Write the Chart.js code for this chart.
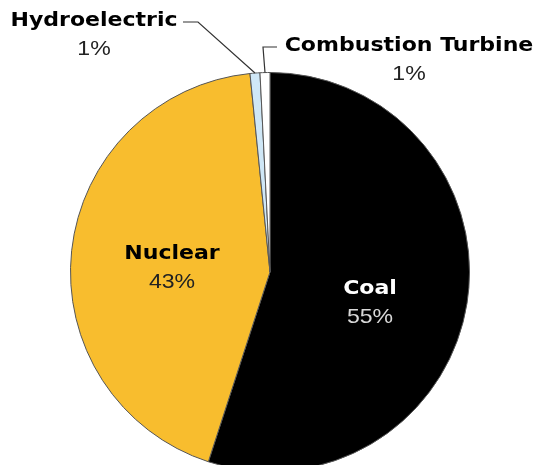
<!DOCTYPE html>
<html>
<head>
<meta charset="utf-8">
<script src="https://cdn.jsdelivr.net/npm/chart.js@4/dist/chart.umd.min.js"></script>
<style>
  html, body { margin: 0; padding: 0; background: #fff; }
  #wrap { width: 537px; height: 465px; overflow: hidden; position: relative; }
</style>
</head>
<body>
<div id="wrap"><canvas id="pie" width="537" height="480"></canvas></div>
<script>
// generation share by source, clockwise from 12 o'clock
var sources = ['Coal', 'Nuclear', 'Hydroelectric', 'Combustion Turbine'];
var shares = [55, 43.4, 0.8, 0.8];
var shareLabels = ['55%', '43%', '1%', '1%'];
var sliceColors = ['#000000', '#F8BD2E', '#CFE7F6', '#FFFFFF'];

// where each label sits (name line centre) and its colours
var labelSpots = [
  { x: 370, y: 289, name: '#FFFFFF', pct: '#D8D8D8' },
  { x: 172, y: 254, name: '#000000', pct: '#222222' },
  { x: 94, y: 21, name: '#000000', pct: '#222222' },
  { x: 409, y: 46, name: '#000000', pct: '#222222' }
];

function wideText(ctx, txt, x, y, sx) {
  ctx.save();
  ctx.translate(x, y);
  ctx.scale(sx, 1);
  ctx.fillText(txt, 0, 0);
  ctx.restore();
}

var labelPlugin = {
  id: 'sliceLabels',
  afterDraw: function(chart) {
    var ctx = chart.ctx;
    var arcs = chart.getDatasetMeta(0).data;
    ctx.save();
    ctx.textAlign = 'center';
    ctx.textBaseline = 'middle';
    sources.forEach(function(name, i) {
      var s = labelSpots[i];
      ctx.fillStyle = s.name;
      ctx.font = 'bold 19px "DejaVu Sans"';
      wideText(ctx, name, s.x, s.y, 1.16);
      ctx.fillStyle = s.pct;
      ctx.font = '21px "Liberation Sans"';
      wideText(ctx, shareLabels[i], s.x, s.y + 28, 1.1);
    });

    // leader lines for the two thin slices
    ctx.strokeStyle = '#333';
    ctx.lineWidth = 1.2;
    var hydro = arcs[2], ct = arcs[3];
    var hMid = (hydro.startAngle + hydro.endAngle) / 2;
    var cMid = (ct.startAngle + ct.endAngle) / 2;
    ctx.beginPath();
    ctx.moveTo(183, 22);
    ctx.lineTo(198, 22);
    ctx.lineTo(hydro.x + Math.cos(hMid) * hydro.outerRadius, hydro.y + Math.sin(hMid) * hydro.outerRadius);
    ctx.stroke();
    ctx.beginPath();
    ctx.moveTo(277, 47);
    ctx.lineTo(263, 47);
    ctx.lineTo(ct.x + Math.cos(cMid) * ct.outerRadius, ct.y + Math.sin(cMid) * ct.outerRadius);
    ctx.stroke();
    ctx.restore();
  }
};

new Chart(document.getElementById('pie').getContext('2d'), {
  type: 'pie',
  data: {
    labels: sources,
    datasets: [{
      data: shares,
      backgroundColor: sliceColors,
      borderColor: '#555555',
      borderWidth: 1
    }]
  },
  options: {
    responsive: false,
    animation: false,
    layout: { padding: { top: 72, bottom: 8, left: 70, right: 67 } },
    plugins: { legend: { display: false }, tooltip: { enabled: false } }
  },
  plugins: [labelPlugin]
});
</script>
</body>
</html>
